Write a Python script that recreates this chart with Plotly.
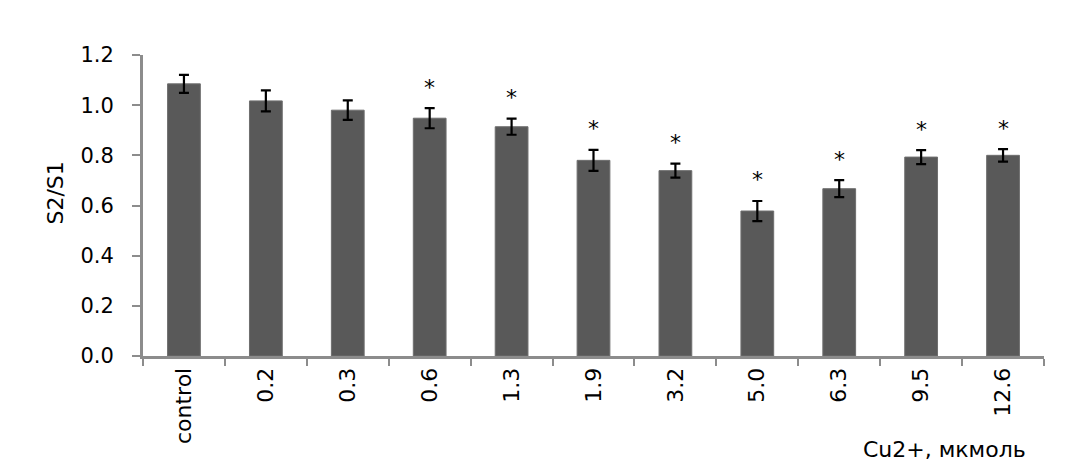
import plotly.graph_objects as go

# concentrations of Cu2+ (мкмоль) and the S2/S1 ratio
CATEGORIES = ["control", "0.2", "0.3", "0.6", "1.3", "1.9", "3.2", "5.0", "6.3", "9.5", "12.6"]
MEANS = [1.085, 1.017, 0.980, 0.948, 0.914, 0.780, 0.739, 0.578, 0.667, 0.793, 0.800]
ERRORS = [0.036, 0.042, 0.039, 0.040, 0.032, 0.042, 0.028, 0.040, 0.034, 0.028, 0.025]
SIGNIFICANT = [False, False, False, True, True, True, True, True, True, True, True]

FONT = "DejaVu Sans"
AXIS_GREY = "#8c8c8c"

fig = go.Figure(go.Bar(
    x=CATEGORIES,
    y=MEANS,
    marker=dict(color="#595959", line=dict(color="#6e6e6e", width=1)),
    error_y=dict(type="data", array=ERRORS, color="black", thickness=2.2, width=5),
    showlegend=False,
))

# asterisks above the significant bars (x given as category index)
for i, (m, e, sig) in enumerate(zip(MEANS, ERRORS, SIGNIFICANT)):
    if sig:
        fig.add_annotation(
            x=i, y=m + e, text="*", showarrow=False,
            yanchor="middle", yshift=21,
            font=dict(family=FONT, size=22, color="black"),
        )

fig.add_annotation(
    xref="paper", yref="paper", x=-0.0966, y=0.543,
    xanchor="center", yanchor="middle",
    text="S2/S1", textangle=-90, showarrow=False,
    font=dict(family=FONT, size=22, color="black"),
)
fig.add_annotation(
    xref="paper", yref="paper", x=0.982, y=-0.309,
    xanchor="right", yanchor="middle",
    text="Cu2+, мкмоль", showarrow=False,
    font=dict(family=FONT, size=22, color="black"),
)

# the page body adds an 8px offset, margins compensate for it
fig.update_layout(
    width=1069,
    height=470,
    margin=dict(l=135, r=33, t=47, b=122),
    plot_bgcolor="white",
    paper_bgcolor="white",
    bargap=0.6,
    font=dict(family=FONT, size=21, color="black"),
)
fig.update_xaxes(
    type="category",
    range=[-0.5, len(CATEGORIES) - 0.5],
    showline=True, linecolor=AXIS_GREY, linewidth=3,
    ticks="outside", tickson="boundaries", ticklen=7, tickwidth=2, tickcolor=AXIS_GREY,
    tickangle=-90,
    tickfont=dict(family=FONT, size=22),
    showgrid=False,
)
fig.update_yaxes(
    range=[0, 1.2],
    dtick=0.2,
    tickformat=".1f",
    showline=True, linecolor=AXIS_GREY, linewidth=3,
    ticks="outside", ticklen=8, tickwidth=2, tickcolor=AXIS_GREY,
    ticklabelstandoff=14,
    tickfont=dict(family=FONT, size=21),
    showgrid=False, zeroline=False,
)

fig.write_html("out.html")
